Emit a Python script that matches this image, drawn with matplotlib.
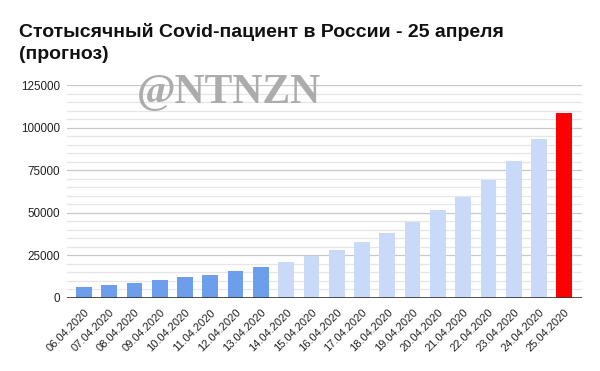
import matplotlib.pyplot as plt
import numpy as np

# data
dates = ['06.04.2020', '07.04.2020', '08.04.2020', '09.04.2020', '10.04.2020',
         '11.04.2020', '12.04.2020', '13.04.2020', '14.04.2020', '15.04.2020',
         '16.04.2020', '17.04.2020', '18.04.2020', '19.04.2020', '20.04.2020',
         '21.04.2020', '22.04.2020', '23.04.2020', '24.04.2020', '25.04.2020']
actual = [6343, 7497, 8672, 10131, 11917, 13584, 15770, 18328]
forecast = [20900, 24400, 28300, 32800, 38300, 44200, 51300,
            59400, 69000, 80200, 93200]
target = [108300]

values = actual + forecast + target
colors = (['#6d9eeb'] * len(actual) + ['#c9daf8'] * len(forecast)
          + ['#ff0000'] * len(target))

plt.rcParams['font.family'] = ['Liberation Sans', 'DejaVu Sans']

fig = plt.figure(figsize=(6, 3.71), dpi=100)
ax = fig.add_axes([66.7 / 600, 1 - 297.7 / 371, (582 - 66.7) / 600, (297.7 - 85) / 371])

x = np.arange(len(values))
ax.bar(x, values, width=0.62, color=colors, zorder=3)

ax.set_xlim(-0.68, len(values) - 0.3)
ax.set_ylim(0, 125000)
ax.set_yticks(np.arange(0, 125001, 25000))
ax.set_yticks(np.arange(0, 125001, 5000), minor=True)
ax.grid(axis='y', which='major', color='#c8c8c8', lw=0.9, zorder=0)
ax.grid(axis='y', which='minor', color='#e6e6e6', lw=0.9, zorder=0)
ax.axhline(0, color='#333333', lw=1.2, zorder=4)

ax.set_xticks(x)
ax.set_xticklabels(dates, rotation=45, ha='right', rotation_mode='anchor',
                   fontsize=8.0, color='#222222')
ax.tick_params(axis='x', length=0, pad=7)
ax.tick_params(axis='y', which='both', length=0, pad=5, labelsize=8.4,
               labelcolor='#222222')
for s in ax.spines.values():
    s.set_visible(False)

fig.text(19 / 600, 1 - 37 / 371, 'Стотысячный Covid-пациент в России - 25 апреля',
         fontsize=14, fontweight='bold', color='#111111', va='baseline')
fig.text(19 / 600, 1 - 59 / 371, '(прогноз)',
         fontsize=14, fontweight='bold', color='#111111', va='baseline')

# watermark
fig.text(137 / 600, 1 - 103 / 371, '@NTNZN', family='Liberation Serif',
         fontsize=30, fontweight='bold', color='#acacac', va='baseline', zorder=5)

fig.savefig('out.png', dpi=100)
